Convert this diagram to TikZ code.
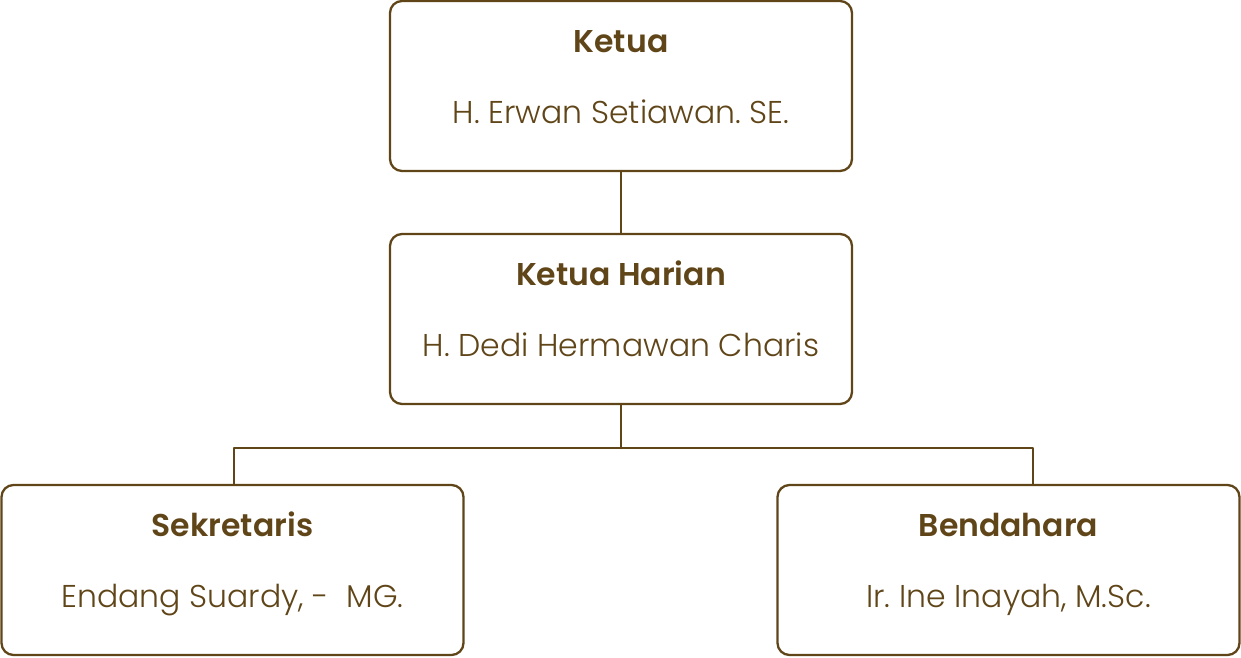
\documentclass[tikz,border=0pt]{standalone}
\usepackage{fontspec}
\setmainfont{Poppins Light}
\newfontfamily\titlefont{Poppins SemiBold}
\definecolor{coklat}{HTML}{5F4518}
\frenchspacing
\begin{document}
\begin{tikzpicture}[x=1pt,y=-1pt,line join=round,line cap=round,
  kotak/.style={draw=coklat,line width=2.3pt,rounded corners=12pt,minimum width=462pt,minimum height=170pt,inner sep=0pt},
  judul/.style={font=\titlefont\fontsize{31.5}{31.5}\selectfont,text=coklat,anchor=base},
  nama/.style={font=\fontsize{31.5}{31.5}\selectfont,text=coklat,anchor=base}]
\useasboundingbox (0,0) rectangle (1241,657);
\foreach \n/\x/\y/\j/\m in {ketua/621/86/Ketua/{H. Erwan Setiawan. SE.},harian/621/319/Ketua Harian/{H. Dedi Hermawan Charis},sekre/232.5/570/Sekretaris/{Endang Suardy, -\ \ MG.},benda/1008.5/570/Bendahara/{Ir. Ine Inayah, M.Sc.}}{
  \node[kotak] (\n) at (\x,\y) {};
  \node[judul] (\n-j) at (\x,\y-33.5) {\j};
  \node[nama] (\n-m) at (\x,\y+37) {\m};
}
\coordinate (kiri) at (234,448);
\coordinate (kanan) at (1033,448);
\draw[coklat,line width=2.5pt] (ketua.south) -- (harian.north);
\draw[coklat,line width=2.5pt] (harian.south) -- (harian.south |- kiri);
\draw[coklat,line width=2.5pt,line cap=butt] (sekre.north -| kiri) -- (kiri) -- (kanan) -- (benda.north -| kanan);
\end{tikzpicture}
\end{document}
